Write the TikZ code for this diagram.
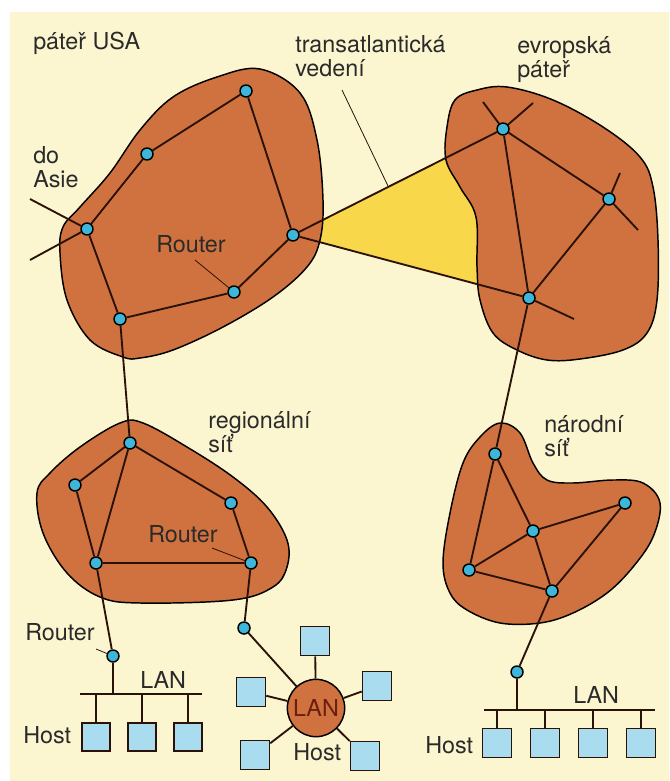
\documentclass[tikz,border=0pt]{standalone}
\usepackage{fontspec}
\setmainfont{TeX Gyre Heros}
\usetikzlibrary{backgrounds}
\definecolor{paper}{HTML}{FCF6D0}
\definecolor{netorange}{HTML}{CF723F}
\definecolor{fanyellow}{HTML}{F9D74A}
\definecolor{routercyan}{HTML}{3DB6DA}
\definecolor{hostblue}{HTML}{A9DCEE}
\definecolor{linkbrown}{HTML}{2B1208}
\definecolor{labelgray}{HTML}{2A2A2A}
\definecolor{lanred}{HTML}{6E1E10}
\tikzset{
  router/.style={circle, draw=black, fill=routercyan, line width=1.1pt, inner sep=0pt, minimum size=9pt},
  host/.style={rectangle, draw=linkbrown, fill=hostblue, line width=0.9pt, inner sep=0pt, minimum size=21pt},
  link/.style={draw=linkbrown, line width=1.4pt},
  ptr/.style={draw=linkbrown, line width=0.6pt},
  net/.style={fill=netorange, draw=black, line width=1.1pt},
  lbl/.style={font=\fontsize{17.5}{18}\selectfont, text=labelgray, inner sep=0pt, align=left, anchor=base west}
}
\begin{document}
\begin{tikzpicture}[x=0.75pt, y=-0.75pt]
\useasboundingbox (0,0) rectangle (669,781);

% routers of the US backbone
\node[router] (ua) at (246,91) {};
\node[router] (ub) at (147,154) {};
\node[router] (uc) at (87,229) {};
\node[router] (ud) at (293,235) {};
\node[router] (ue) at (234,292) {};
\node[router] (uf) at (120,319) {};
\coordinate (asia1) at (30,199);
\coordinate (asia2) at (30,260);

% routers of the European backbone
\node[router] (ea) at (503,129) {};
\node[router] (eb) at (609,199) {};
\node[router] (ec) at (529,298) {};
\coordinate (ea1) at (483,102);
\coordinate (ea2) at (533,103);
\coordinate (eb1) at (620,173);
\coordinate (eb2) at (638,230);
\coordinate (ec1) at (574,319);

% regional net
\node[router] (ra) at (130,443) {};
\node[router] (rb) at (75,485) {};
\node[router] (rc) at (231,503) {};
\node[router] (rd) at (96,563) {};
\node[router] (re) at (251,563) {};

% national net
\node[router] (na) at (495,454) {};
\node[router] (nb) at (625,503) {};
\node[router] (nc) at (533,531) {};
\node[router] (nd) at (469,570) {};
\node[router] (ne) at (552,591) {};

% LAN routers
\node[router] (lr1) at (113,656) {};
\node[router] (lr2) at (244,628) {};
\node[router] (lr3) at (517,672) {};

% areas
\begin{scope}[on background layer]
\fill[white] (0,0) rectangle (669,781);
\fill[paper] (10,12) rectangle (669,781);
\fill[fanyellow] (ud.center) -- (ea.center) -- (ec.center) -- cycle;
\path[net] plot[smooth cycle, tension=0.6] coordinates {(60,253) (63,227) (80,207) (110,173) (140,130) (173,97) (217,77) (260,69) (300,93) (317,140) (323,200) (320,240) (307,267) (273,297) (223,327) (173,350) (140,358) (123,357) (90,340) (67,300)};
\path[net] plot[smooth cycle, tension=0.6] coordinates {(446,160) (447,127) (455,100) (477,90) (507,87) (553,100) (603,127) (640,157) (653,187) (658,240) (657,300) (647,333) (623,350) (580,359) (547,360) (517,350) (493,333) (480,300) (477,267) (476,217) (460,187)};
\path[net] plot[smooth cycle, tension=0.6] coordinates {(37,493) (50,473) (80,447) (120,423) (143,423) (187,447) (233,477) (267,507) (287,540) (287,567) (273,587) (233,600) (140,603) (100,597) (67,573) (43,533)};
\path[net] plot[smooth cycle, tension=0.6] coordinates {(443,563) (450,513) (463,463) (480,437) (500,423) (520,433) (533,463) (547,480) (573,483) (613,480) (643,483) (660,503) (653,537) (633,567) (607,593) (573,613) (540,623) (500,623) (467,610) (450,593)};
\end{scope}

% links
\draw[link] (ua) -- (ub) -- (uc) -- (uf) -- (ue) -- (ud) -- (ua);
\draw[link] (asia1) -- (uc);
\draw[link] (asia2) -- (uc);
\draw[link] (ud) -- (ea);
\draw[link] (ud) -- (ec);
\draw[link] (ea) -- (eb) -- (ec) -- (ea);
\draw[link] (ea1) -- (ea) -- (ea2);
\draw[link] (eb1) -- (eb) -- (eb2);
\draw[link] (ec) -- (ec1);
\draw[link] (uf) -- (ra);
\draw[link] (ra) -- (rb) -- (rd) -- (ra) -- (rc) -- (re) -- (rd);
\draw[link] (ec) -- (na);
\draw[link] (na) -- (nc) -- (nb) -- (ne) -- (nd) -- (na);
\draw[link] (nd) -- (nc) -- (ne);
\draw[link] (rd) -- (lr1);
\draw[link] (re) -- (lr2);
\draw[link] (ne) -- (lr3);

% bus LAN left
\coordinate (busa1) at (80,694);
\coordinate (busa2) at (202,694);
\draw[link] (busa1) -- (busa2);
\draw[link] (lr1) -- (lr1 |- busa1);
\foreach \n/\x in {h1/96, h2/142, h3/188} {
  \node[host] (\n) at (\x,737) {};
  \draw[link] (\n) -- (\n |- busa1);
}

% star LAN
\node[circle, net, minimum size=43pt, inner sep=0pt, text=lanred, font=\fontsize{17.5}{18}\selectfont] (lan) at (316,708) {LAN};
\draw[link] (lr2) -- (lan);
\foreach \n/\x/\y in {s1/315/641, s2/377/686, s3/251/692, s4/255/755, s5/365/756} {
  \node[host, minimum size=22pt] (\n) at (\x,\y) {};
  \draw[link] (lan) -- (\n);
}

% bus LAN right
\coordinate (busb1) at (484,710);
\coordinate (busb2) at (655,710);
\draw[link] (busb1) -- (busb2);
\draw[link] (lr3) -- (lr3 |- busb1);
\foreach \n/\x in {g1/497, g2/545, g3/593, g4/641} {
  \node[host, minimum size=22pt] (\n) at (\x,743) {};
  \draw[link] (\n) -- (\n |- busb1);
}

% labels (base = last line)
\node[lbl] (tusa) at (33,50) {páteř USA};
\node[lbl] (ttrans) at (295,77) {transatlantická\\vedení};
\node[lbl] (teu) at (517,78) {evropská\\páteř};
\node[lbl] (tasia) at (33,187) {do\\Asie};
\node[lbl] (trou1) at (156,252) {Router};
\node[lbl] (treg) at (208,452) {regionální\\síť};
\node[lbl] (trou2) at (148,542) {Router};
\node[lbl] (tnat) at (544,456) {národní\\síť};
\node[lbl] (trou3) at (25,640) {Router};
\node[lbl] (tlan1) at (140,688) {LAN};
\node[lbl] (tlan3) at (573,703) {LAN};
\node[lbl] (thost1) at (23,743) {Host};
\node[lbl] (thost2) at (293,760) {Host};
\node[lbl] (thost3) at (425,753) {Host};

% pointers
\coordinate (pt1) at (342,90);
\coordinate (pt1b) at (388,186);
\draw[ptr] (pt1) -- (pt1b);
\coordinate (pr1) at (195,260);
\draw[ptr] (pr1) -- (ue);
\coordinate (pr2) at (212,548);
\draw[ptr] (pr2) -- (re);
\coordinate (pr3) at (96,649);
\draw[ptr] (pr3) -- (lr1);
\end{tikzpicture}
\end{document}
